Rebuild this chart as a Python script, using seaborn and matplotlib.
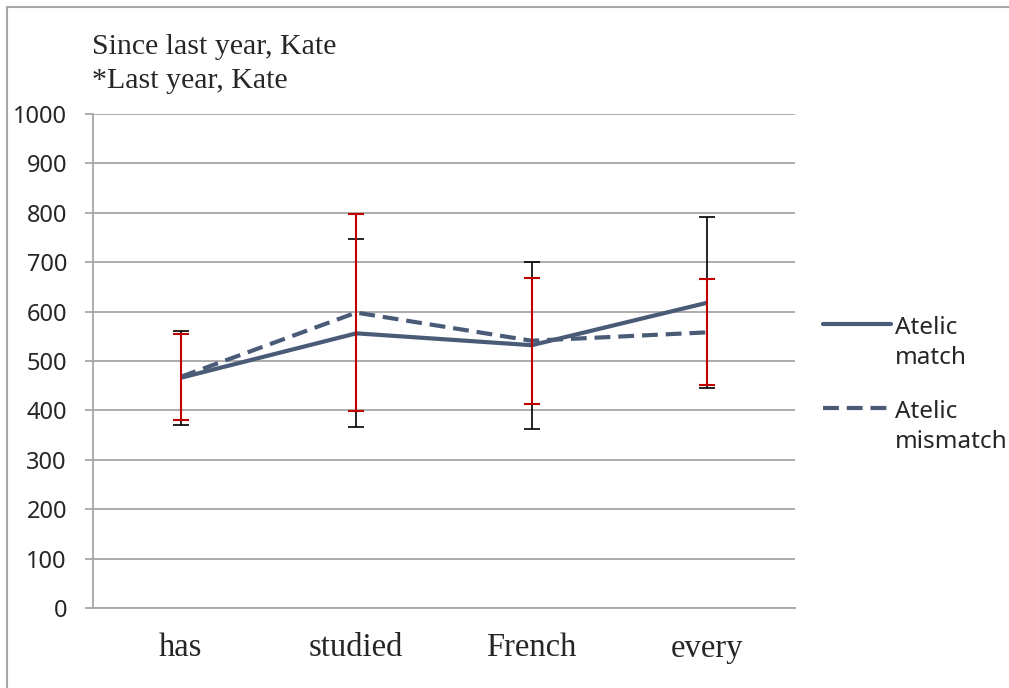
import pandas as pd
import matplotlib
matplotlib.use("Agg")
import matplotlib.pyplot as plt
import seaborn as sns
from matplotlib.lines import Line2D

words = ["has", "studied", "French", "every"]
match_mean = [466, 556, 532, 618]
match_err = [95, 190, 169, 173]
mismatch_mean = [468, 598, 541, 558]
mismatch_err = [87, 200, 128, 107]

series_names = ["Atelic match", "Atelic mismatch"]

df = pd.DataFrame({
    "word": words * 2,
    "rt": match_mean + mismatch_mean,
    "condition": [series_names[0]] * 4 + [series_names[1]] * 4,
})

sns.set_style("white")
plt.rcParams["font.family"] = ["Noto Sans", "DejaVu Sans"]

W, H = 1009, 688
line_col = "#4a5b78"
grid_col = "#a6a6a6"
dash = (3.8, 1.9)

fig = plt.figure(figsize=(W / 100, H / 100), dpi=100)
ax = fig.add_axes([93 / W, 1 - 608 / H, 702 / W, 494 / H])

sns.lineplot(data=df, x="word", y="rt", hue="condition", style="condition",
             palette=[line_col, line_col], dashes=[(1, 0), dash],
             linewidth=3, ax=ax, legend=False, sort=False)

x = list(range(len(words)))
ax.errorbar(x, match_mean, yerr=match_err, fmt="none", ecolor="black",
            elinewidth=1.2, capsize=6, capthick=1.2, zorder=3)
ax.errorbar(x, mismatch_mean, yerr=mismatch_err, fmt="none", ecolor="#c00000",
            elinewidth=1.5, capsize=6, capthick=1.5, zorder=4)

ax.set_xlim(-0.5, 3.5)
ax.set_ylim(0, 1000)
ax.set_yticks(range(0, 1001, 100))
ax.yaxis.grid(True, color=grid_col, linewidth=1.3)
ax.set_axisbelow(True)
for s in ["top", "right"]:
    ax.spines[s].set_visible(False)
for s in ["left", "bottom"]:
    ax.spines[s].set_color(grid_col)
    ax.spines[s].set_linewidth(1.3)

ax.set_xticks(x)
ax.set_xticklabels(words, fontfamily="Liberation Serif", fontsize=23.5)
ax.set_xticks([-0.5, 0.5, 1.5, 2.5, 3.5], minor=True)
ax.tick_params(axis="x", which="major", length=0, pad=18)
ax.tick_params(axis="x", which="minor", length=5.8, color=grid_col, width=1.3, direction="out")
ax.tick_params(axis="y", length=5.8, color=grid_col, width=1.3, direction="out",
               labelsize=17, left=True, pad=13)
ax.set_xlabel("")
ax.set_ylabel("")

fig.text(92 / W, 1 - 34 / H, "Since last year, Kate\n*Last year, Kate",
         fontfamily="Liberation Serif", fontsize=21.5, linespacing=1.42,
         va="top", ha="left")

# legend drawn by hand so the key sits on the first text line, as in the reference
legend_rows = [(324, ["Atelic", "match"], (1, 0)), (408, ["Atelic", "mismatch"], dash)]
for y0, words_lbl, ds in legend_rows:
    ln = Line2D([823 / W, 891 / W], [1 - y0 / H, 1 - y0 / H], transform=fig.transFigure,
                color=line_col, lw=3)
    if ds != (1, 0):
        ln.set_dashes(ds)
    fig.add_artist(ln)
    for i, w in enumerate(words_lbl):
        fig.text(895 / W, 1 - (y0 + 4 + 30 * i) / H, w, fontsize=17.5,
                 va="center", ha="left")

fig.add_artist(Line2D([7 / W, 1.0], [1 - 7 / H, 1 - 7 / H], transform=fig.transFigure,
                      color=grid_col, lw=1.5))
fig.add_artist(Line2D([7 / W, 7 / W], [0.0, 1 - 7 / H], transform=fig.transFigure,
                      color=grid_col, lw=1.5))

fig.savefig("out.png", dpi=100)
